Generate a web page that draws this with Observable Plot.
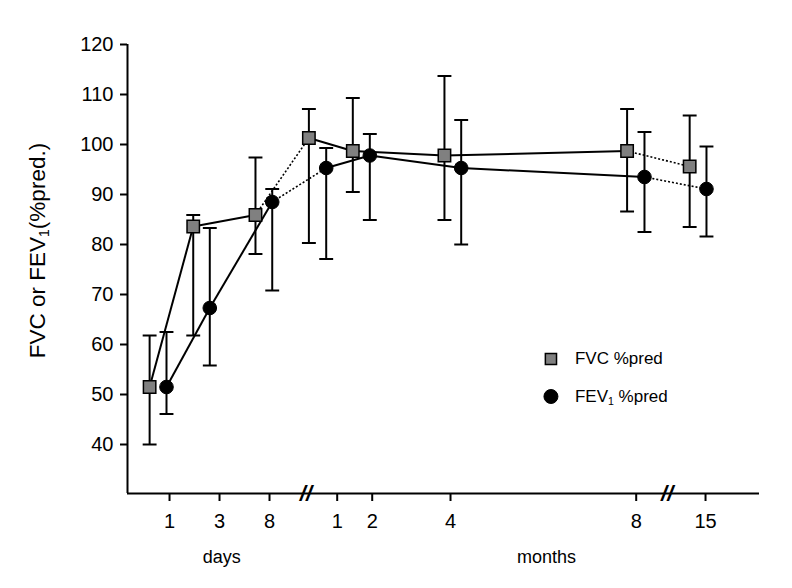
<!DOCTYPE html>
<html>
<head>
<meta charset="utf-8">
<script src="https://cdn.jsdelivr.net/npm/d3@7"></script>
<script src="https://cdn.jsdelivr.net/npm/@observablehq/plot@0.6"></script>
<style>
  html, body { margin: 0; padding: 0; background: #fff; }
  #chart svg { display: block; }
</style>
</head>
<body>
<div id="chart"></div>
<script>
// ---- Data (x = position along the broken time axis, 0–100 axis units) ----
const tickPositions = [6.65, 14.56, 22.47, 33.18, 38.72, 51.11, 80.49, 91.46];
const tickLabels    = ["1", "3", "8", "1", "2", "4", "8", "15"];
const breakPositions = [28.24, 85.40];
const unitLabels = ["days", "months"];
const unitPositions = [14.9, 66.3];

const fvcX    = [3.5, 10.4, 20.25, 28.7, 35.65, 50.15, 79.05, 88.95];
const fvcMean = [51.5, 83.6, 85.9, 101.3, 98.7, 97.8, 98.7, 95.6];
const fvcHi   = [61.8, 85.9, 97.4, 107.1, 109.3, 113.7, 107.1, 105.8];
const fvcLo   = [40.0, 61.8, 78.1, 80.3, 90.5, 84.9, 86.6, 83.5];

const fevX    = [6.17, 13.02, 22.9, 31.44, 38.34, 52.8, 81.8, 91.61];
const fevMean = [51.5, 67.3, 88.5, 95.3, 97.8, 95.3, 93.5, 91.1];
const fevHi   = [62.5, 83.3, 91.1, 99.3, 102.1, 104.9, 102.5, 99.6];
const fevLo   = [46.1, 55.8, 70.8, 77.1, 84.9, 80.0, 82.5, 81.6];

// connecting segment styles between consecutive time points
const segmentStyles = ["solid", "solid", "dotted", "solid", "solid", "solid", "dotted"];

const yTicks = [40, 50, 60, 70, 80, 90, 100, 110, 120];
const yMin = 30.2, yMax = 120;
const yTitle = "FVC or FEV1(%pred.)";
const legendLabels = ["FVC %pred", "FEV1 %pred"];

// ---- Build tables ----
const points = (name, X, M, H, L) => X.map((x, i) => ({series: name, x, y: M[i], hi: H[i], lo: L[i]}));
const fvc = points("FVC", fvcX, fvcMean, fvcHi, fvcLo);
const fev = points("FEV1", fevX, fevMean, fevHi, fevLo);
const all = fvc.concat(fev);
const segs = [];
for (const s of [fvc, fev]) {
  for (let i = 0; i < s.length - 1; i++) {
    segs.push({x1: s[i].x, y1: s[i].y, x2: s[i + 1].x, y2: s[i + 1].y, style: segmentStyles[i]});
  }
}
const labelByPos = new Map(tickPositions.map((p, i) => [p, tickLabels[i]]));
const capHalf = 1.1;

const legendX = 67.0, legendTextX = 70.8;
const legendRows = [
  {label: legendLabels[0], y: 57.1},
  {label: legendLabels[1], y: 49.6}
];

const chart = Plot.plot({
  width: 792,
  height: 588,
  marginLeft: 127,
  marginRight: 33,
  marginTop: 44,
  marginBottom: 95,
  style: {fontFamily: "'Liberation Sans', Arial, Helvetica, sans-serif", color: "#000", background: "#fff", overflow: "visible"},
  x: {domain: [0, 100]},
  y: {domain: [yMin, yMax]},
  marks: [
    // axes
    Plot.axisY(yTicks, {tickSize: 7, tickPadding: 7, fontSize: 20, strokeWidth: 2, label: null}),
    Plot.axisX(tickPositions, {tickSize: 8, tickPadding: 12, fontSize: 20, strokeWidth: 2, label: null,
      tickFormat: d => labelByPos.get(d)}),
    Plot.ruleY([yMin], {stroke: "#000", strokeWidth: 2}),
    Plot.ruleX([0], {x: d => d, y1: () => yMin, y2: () => yMax, stroke: "#000", strokeWidth: 2}),
    Plot.text(breakPositions, {x: d => d, y: () => yMin, text: () => "//", fontSize: 22,
      fontWeight: "bold", fontStyle: "italic", fill: "#000"}),
    Plot.text(unitLabels, {x: (d, i) => unitPositions[i], y: () => yMin, text: d => d, fontSize: 18,
      dy: 64, fill: "#000"}),
    Plot.text([yTitle], {frameAnchor: "left", textAnchor: "middle", y: () => 78.8, dx: -90, rotate: -90,
      text: d => d, fontSize: 22.5, fill: "#000"}),
    // error bars
    Plot.ruleX(all, {x: "x", y1: "lo", y2: "hi", stroke: "#000", strokeWidth: 2}),
    Plot.link(all, {x1: d => d.x - capHalf, x2: d => d.x + capHalf, y1: "hi", y2: "hi", stroke: "#000", strokeWidth: 2}),
    Plot.link(all, {x1: d => d.x - capHalf, x2: d => d.x + capHalf, y1: "lo", y2: "lo", stroke: "#000", strokeWidth: 2}),
    // connecting lines
    Plot.link(segs.filter(d => d.style === "solid"), {x1: "x1", y1: "y1", x2: "x2", y2: "y2", stroke: "#000", strokeWidth: 2}),
    Plot.link(segs.filter(d => d.style === "dotted"), {x1: "x1", y1: "y1", x2: "x2", y2: "y2", stroke: "#000",
      strokeWidth: 1.6, strokeDasharray: "2,2"}),
    // markers
    Plot.dot(fvc, {x: "x", y: "y", symbol: "square", r: 7, fill: "#808080", stroke: "#000", strokeWidth: 1.5}),
    Plot.dot(fev, {x: "x", y: "y", symbol: "circle", r: 6.8, fill: "#000", stroke: "#000", strokeWidth: 1}),
    // legend
    Plot.dot([legendRows[0]], {x: () => legendX, y: "y", symbol: "square", r: 6.3, fill: "#808080", stroke: "#000", strokeWidth: 1.5}),
    Plot.dot([legendRows[1]], {x: () => legendX, y: "y", symbol: "circle", r: 7, fill: "#000", stroke: "#000", strokeWidth: 1}),
    Plot.text(legendRows, {x: () => legendTextX, y: "y", text: "label", textAnchor: "start", fontSize: 17, fill: "#000"})
  ]
});

// subscript the "1" in FEV1
chart.querySelectorAll("text").forEach(t => {
  const s = t.textContent;
  if (s.includes("FEV1") && t.children.length === 0) {
    const [a, b] = s.split("FEV1");
    t.textContent = "";
    const ns = "http://www.w3.org/2000/svg";
    const t1 = document.createElementNS(ns, "tspan"); t1.textContent = a + "FEV";
    const t2 = document.createElementNS(ns, "tspan"); t2.textContent = "1";
    t2.setAttribute("font-size", "0.62em"); t2.setAttribute("dy", "0.3em");
    const t3 = document.createElementNS(ns, "tspan"); t3.textContent = b;
    t3.setAttribute("dy", "-0.19em");
    t.append(t1, t2, t3);
  }
});
document.getElementById("chart").append(chart);
</script>
</body>
</html>
